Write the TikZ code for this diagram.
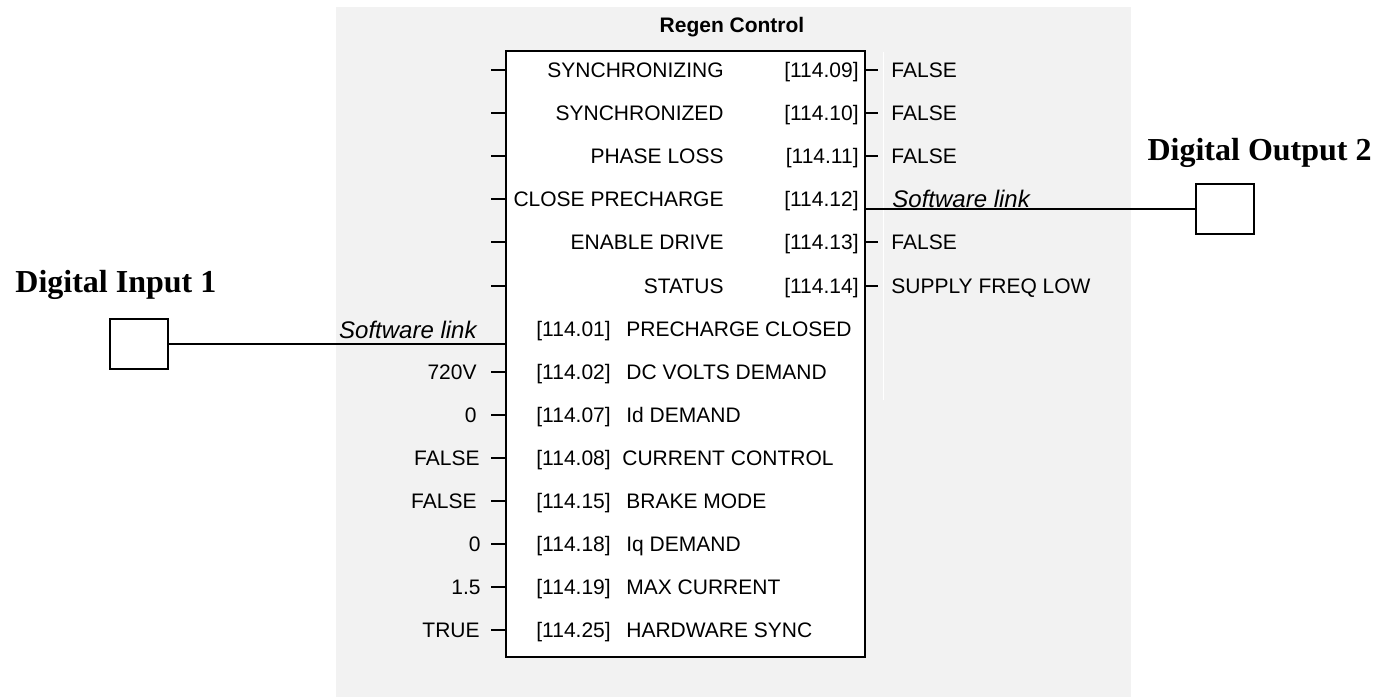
\documentclass[tikz,border=0pt]{standalone}
\usepackage{fontspec}
\setmainfont{Liberation Sans}
\newfontfamily\tnr{Liberation Serif}
\definecolor{bggray}{RGB}{242,242,242}
\begin{document}
\begin{tikzpicture}[x=0.5pt,y=-0.5pt,
 lbl/.style={font=\fontsize{10.5}{12}\selectfont, inner sep=0pt, text height=7.5pt, text depth=0pt},
 titlelbl/.style={font=\bfseries\fontsize{10.5}{12}\selectfont, inner sep=0pt, text height=7.5pt, text depth=0pt},
 tick/.style={line width=1pt},
 link/.style={line width=0.6pt},
 iobox/.style={draw, line width=0.8pt, fill=white, minimum width=29pt, minimum height=25pt, inner sep=0pt},
 heading/.style={font=\tnr\bfseries\fontsize{16}{19}\selectfont, inner sep=0pt},
 swlink/.style={font=\itshape\fontsize{12}{14}\selectfont, inner sep=0pt}]
\useasboundingbox (0,0) rectangle (1378,697);
\fill[bggray] (336,7) rectangle (1131,697);
\node[draw, line width=1.2pt, fill=white, minimum width=179.5pt, minimum height=303pt, inner sep=0pt] (rc) at (685.5,354) {};
\draw[white, line width=0.5pt] (883,52) -- (883,400);
\node[titlelbl] (title) at (732,25) {Regen Control};
% output rows
\foreach \i/\nm/\pn in {0/SYNCHRONIZING/09, 1/SYNCHRONIZED/10, 2/PHASE LOSS/11, 3/CLOSE PRECHARGE/12, 4/ENABLE DRIVE/13, 5/STATUS/14} {
  \pgfmathsetmacro\yy{70+43.1*\i}
  \node[lbl, anchor=east] (on\i) at (724,\yy) {\nm};
  \node[lbl, anchor=east] (op\i) at (859,\yy) {[114.\pn]};
  \coordinate (lt\i) at (491,\yy);
  \draw[tick] (lt\i) -- (rc.west |- lt\i);
}
\foreach \i/\val in {0/FALSE, 1/FALSE, 2/FALSE, 4/FALSE, 5/SUPPLY FREQ LOW} {
  \pgfmathsetmacro\yy{70+43.1*\i}
  \node[lbl, anchor=west] (ov\i) at (891,\yy) {\val};
  \draw[tick] (rc.east |- ov\i) -- ++(12,0);
}
% input rows
\foreach \i/\pn/\nm/\nx in {6/01/PRECHARGE CLOSED/626, 7/02/DC VOLTS DEMAND/626, 8/07/Id DEMAND/626, 9/08/CURRENT CONTROL/622, 10/15/BRAKE MODE/626, 11/18/Iq DEMAND/626, 12/19/MAX CURRENT/626, 13/25/HARDWARE SYNC/626} {
  \pgfmathsetmacro\yy{70+43.1*\i}
  \node[lbl, anchor=west] (ip\i) at (536,\yy) {[114.\pn]};
  \node[lbl, anchor=west] (in\i) at (\nx,\yy) {\nm};
}
\foreach \i/\val/\vx in {7/720V/477, 8/0/477, 9/FALSE/480, 10/FALSE/477, 11/0/481, 12/1.5/481, 13/TRUE/480} {
  \pgfmathsetmacro\yy{70+43.1*\i}
  \node[lbl, anchor=east] (iv\i) at (\vx,\yy) {\val};
  \coordinate (it\i) at (491,\yy);
  \draw[tick] (it\i) -- (rc.west |- it\i);
}
% digital input 1
\node[heading, anchor=base west] (dih) at (15,292) {Digital Input 1};
\node[iobox] (di1) at (139,344) {};
\draw[link] (di1.east) -- (di1.east -| rc.west);
\node[swlink, anchor=base east] (swl) at (477,338) {Software link};
% digital output 2
\node[heading, anchor=base east] (doh) at (1372,160) {Digital Output 2};
\node[iobox] (do2) at (1225,209) {};
\draw[link] (rc.east |- do2.west) -- (do2.west);
\node[swlink, anchor=base west] (swr) at (892,207) {Software link};
\end{tikzpicture}
\end{document}
